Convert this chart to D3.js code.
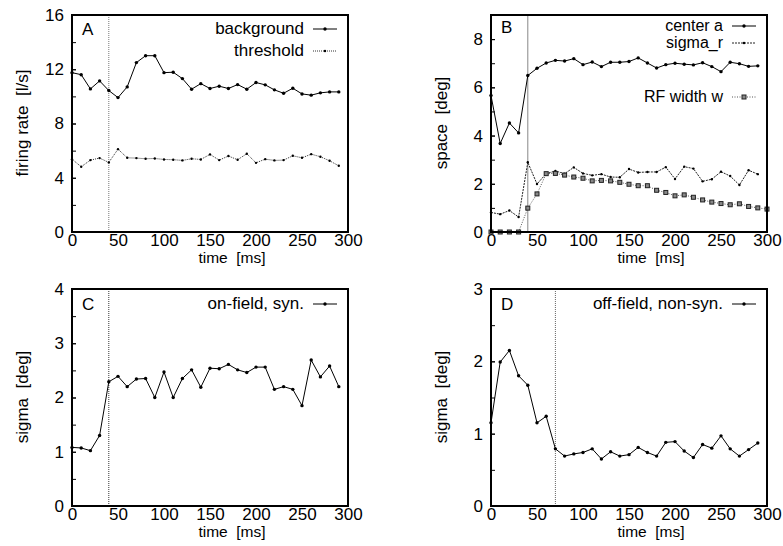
<!DOCTYPE html>
<html>
<head>
<meta charset="utf-8">
<script src="https://cdn.jsdelivr.net/npm/d3@7"></script>
<style>
  body { margin: 0; background: #fff; }
  text { font-family: "Liberation Sans", Arial, sans-serif; }
</style>
</head>
<body>
<div id="graph"></div>
<script>
const times = [0,10,20,30,40,50,60,70,80,90,100,110,120,130,140,150,160,170,180,190,200,210,220,230,240,250,260,270,280,290];
const timesW = times.concat([300]);

const background = [11.75,11.6,10.55,11.14,10.43,9.91,10.7,12.49,13.0,13.0,11.75,11.78,11.31,10.53,10.94,10.58,10.75,10.58,10.87,10.53,11.02,10.85,10.48,10.23,10.6,10.18,10.09,10.26,10.33,10.33];
const threshold = [5.37,4.81,5.3,5.45,5.13,6.11,5.47,5.45,5.4,5.42,5.35,5.33,5.28,5.4,5.35,5.72,5.3,5.6,5.33,5.77,5.1,5.37,5.28,5.3,5.62,5.47,5.74,5.55,5.25,4.88];

const centerA = [5.66,3.67,4.52,4.11,6.49,6.79,7.01,7.12,7.09,7.19,6.94,7.05,6.86,7.04,7.04,7.07,7.22,7.01,6.8,6.94,7.0,6.96,6.93,7.02,6.86,6.65,7.04,6.98,6.87,6.89];
const sigmaR = [0.81,0.74,0.89,0.62,2.89,1.99,2.42,2.53,2.42,2.68,2.43,2.35,2.4,2.28,2.27,2.61,2.47,2.49,2.49,2.69,2.2,2.71,2.63,2.1,2.19,2.5,2.32,1.95,2.56,2.4];
const rfWidth = [0,0,0,0,0.99,1.58,2.42,2.43,2.36,2.28,2.23,2.12,2.14,2.12,2.06,1.98,1.92,1.92,1.73,1.64,1.5,1.54,1.44,1.33,1.24,1.18,1.13,1.17,1.06,1.0,0.95];

const onField = [1.08,1.07,1.02,1.3,2.29,2.39,2.2,2.34,2.35,2.0,2.47,2.0,2.35,2.51,2.19,2.54,2.53,2.61,2.51,2.46,2.56,2.56,2.15,2.2,2.15,1.85,2.69,2.38,2.58,2.2];
const offField = [1.15,1.99,2.15,1.8,1.67,1.15,1.24,0.79,0.69,0.72,0.74,0.79,0.65,0.75,0.69,0.71,0.81,0.74,0.69,0.88,0.89,0.76,0.67,0.85,0.8,0.97,0.79,0.69,0.78,0.87];

const xTicks = [0,50,100,150,200,250,300];
const yTicksA = [0,4,8,12,16];
const yTicksB = [0,2,4,6,8];
const yTicksC = [0,1,2,3,4];
const yTicksD = [0,1,2,3];

const font = "Liberation Sans, Arial, sans-serif";

const svg = d3.select("#graph")
              .append("svg")
              .attr("width", 783)
              .attr("height", 546);

function panel(p) {
  const x = d3.scaleLinear().domain([0, 300]).range([p.left, p.left + 276]);
  const y = d3.scaleLinear().domain([0, p.ymax]).range([p.top + 217, p.top]);
  const g = svg.append("g");

  // minor + major inward ticks on the left axis
  g.append("g")
   .attr("transform", `translate(${p.left},0)`)
   .call(d3.axisLeft(y).tickValues(d3.range(0, p.ymax + 1e-9, p.minor)).tickSize(-4).tickFormat(""))
   .call(s => s.select(".domain").remove());

  g.append("g")
   .attr("transform", `translate(${p.left},0)`)
   .call(d3.axisLeft(y).tickValues(p.yTicks).tickSize(-4).tickPadding(8).tickFormat(d3.format("d")))
   .call(s => s.select(".domain").remove())
   .call(s => s.selectAll("text").attr("font-size", 17).attr("font-family", font).attr("fill", "#000"));

  g.append("g")
   .attr("transform", `translate(0,${p.top + 217})`)
   .call(d3.axisBottom(x).tickValues(xTicks).tickSize(0).tickPadding(2))
   .call(s => s.select(".domain").remove())
   .call(s => s.selectAll("text").attr("font-size", 17).attr("font-family", font).attr("fill", "#000"));

  g.append("line")
   .attr("x1", x(p.vline)).attr("x2", x(p.vline))
   .attr("y1", y(0)).attr("y2", y(p.ymax))
   .attr("stroke", p.vlineColor)
   .attr("stroke-width", 1)
   .attr("stroke-dasharray", p.vlineDash);

  p.series.forEach(s => {
    const pts = s.values.map((v, j) => [s.t[j], v]);
    g.append("path")
     .datum(pts)
     .attr("fill", "none")
     .attr("stroke", s.color)
     .attr("stroke-width", 1)
     .attr("stroke-dasharray", s.dash)
     .attr("d", d3.line().x(d => x(d[0])).y(d => y(d[1])));

    drawMarks(g, pts.map(d => [x(d[0]), y(d[1])]), s);

    const ly = p.top + s.legendY;
    g.append("text")
     .attr("x", p.left + 276 - 44)
     .attr("y", ly)
     .attr("text-anchor", "end")
     .attr("font-size", p.legendSize || 17)
     .text(s.name);
    g.append("line")
     .attr("x1", p.left + 276 - 35).attr("x2", p.left + 276 - 11)
     .attr("y1", ly - 5).attr("y2", ly - 5)
     .attr("stroke", s.color)
     .attr("stroke-dasharray", s.dash);
    drawMarks(g, [[p.left + 276 - 23, ly - 5]], s);
  });

  g.append("rect")
   .attr("x", p.left).attr("y", p.top)
   .attr("width", 276).attr("height", 217)
   .attr("fill", "none")
   .attr("stroke", "#000")
   .attr("stroke-width", 2);

  g.append("text")
   .attr("x", p.left + 10)
   .attr("y", p.top + p.letterY)
   .attr("font-size", 17)
   .text(p.letter);

  g.append("text")
   .attr("transform", `translate(${p.left - 44},${p.top + 108}) rotate(-90)`)
   .attr("text-anchor", "middle")
   .attr("font-size", 17)
   .style("white-space", "pre")
   .text(p.ylabel);

  g.append("text")
   .attr("x", p.left + 160)
   .attr("y", p.top + 248)
   .attr("text-anchor", "middle")
   .attr("font-size", 15.5)
   .style("white-space", "pre")
   .text("time  [ms]");
}

function drawMarks(g, pts, s) {
  if (s.mark === "square") {
    g.selectAll(null).data(pts).enter().append("rect")
     .attr("x", d => d[0] - 2).attr("y", d => d[1] - 2)
     .attr("width", 4).attr("height", 4)
     .attr("fill", "#888").attr("stroke", "#222").attr("stroke-width", 1);
  } else {
    g.selectAll(null).data(pts).enter().append("circle")
     .attr("cx", d => d[0]).attr("cy", d => d[1])
     .attr("r", s.mark === "small" ? 1.2 : 1.7)
     .attr("fill", "#000");
  }
}

panel({
  left: 72, top: 15, ymax: 16, minor: 2, yTicks: yTicksA, letter: "A", letterY: 20,
  ylabel: "firing rate  [l/s]", vline: 40, vlineColor: "#777", vlineDash: "1,1",
  series: [
    { name: "background", t: times, values: background, color: "#000", dash: null, mark: "dot", legendY: 19 },
    { name: "threshold", t: times, values: threshold, color: "#333", dash: "1,1", mark: "small", legendY: 41 }
  ]
});

panel({
  left: 491, top: 15, ymax: 9, minor: 1, yTicks: yTicksB, letter: "B", letterY: 18, legendSize: 16,
  ylabel: "space  [deg]", vline: 40, vlineColor: "#888", vlineDash: null,
  series: [
    { name: "center a", t: times, values: centerA, color: "#000", dash: null, mark: "dot", legendY: 16 },
    { name: "sigma_r", t: times, values: sigmaR, color: "#222", dash: "2,1", mark: "small", legendY: 33 },
    { name: "RF width w", t: timesW, values: rfWidth, color: "#555", dash: "1,1.5", mark: "square", legendY: 87 }
  ]
});

panel({
  left: 72, top: 289, ymax: 4, minor: 0.5, yTicks: yTicksC, letter: "C", letterY: 21,
  ylabel: "sigma  [deg]", vline: 40, vlineColor: "#333", vlineDash: "1,1",
  series: [
    { name: "on-field, syn.", t: times, values: onField, color: "#000", dash: null, mark: "dot", legendY: 20 }
  ]
});

panel({
  left: 491, top: 289, ymax: 3, minor: 0.5, yTicks: yTicksD, letter: "D", letterY: 21,
  ylabel: "sigma  [deg]", vline: 70, vlineColor: "#666", vlineDash: "1,1",
  series: [
    { name: "off-field, non-syn.", t: times, values: offField, color: "#000", dash: null, mark: "dot", legendY: 20 }
  ]
});
</script>
</body>
</html>
